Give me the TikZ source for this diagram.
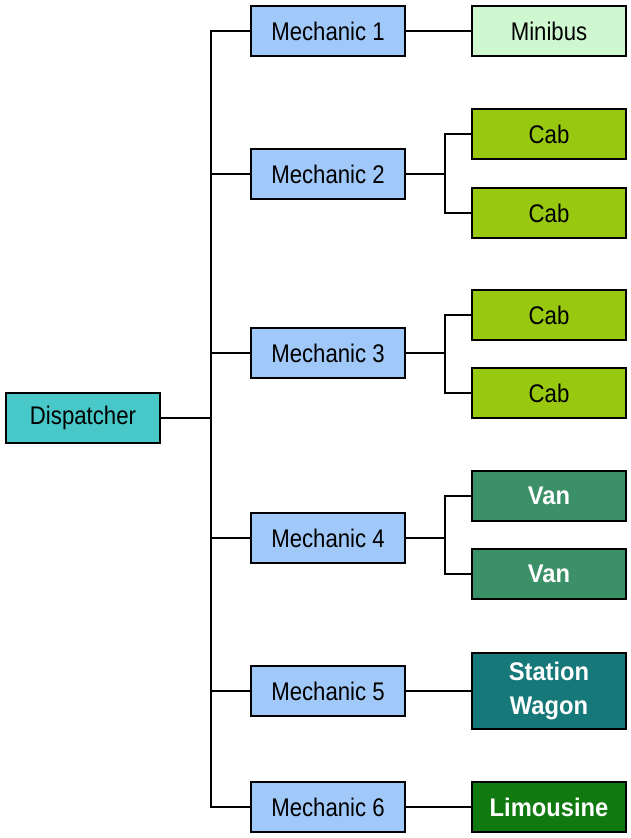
\documentclass[tikz,border=0pt]{standalone}
\usepackage{fontspec}
\setmainfont{Liberation Sans}[FakeStretch=0.87]
\newfontfamily\boldfont{Liberation Sans}[FakeStretch=0.93]
\definecolor{dispc}{HTML}{48C8C8}
\definecolor{mechc}{HTML}{A0C8F8}
\definecolor{minic}{HTML}{D0F8D0}
\definecolor{cabc}{HTML}{98C810}
\definecolor{vanc}{HTML}{3C9068}
\definecolor{swc}{HTML}{167878}
\definecolor{limoc}{HTML}{107A10}
\begin{document}
\begin{tikzpicture}[x=1pt,y=-1pt,
  box/.style={draw=black, line width=2.6pt, minimum width=154pt, minimum height=50pt, inner sep=0pt,
    font=\fontsize{25.5}{34}\selectfont, align=center},
  darkbox/.style={box, text=white, font=\fontsize{25.5}{34}\selectfont\boldfont\bfseries},
  link/.style={line width=2pt}]
\useasboundingbox (0,0) rectangle (630,838);
\fill[white] (0,0) rectangle (630,838);
\node[box, fill=dispc] (disp) at (83,418) {Dispatcher};
\node[box, fill=mechc] (m1) at (328,31) {Mechanic 1};
\node[box, fill=mechc] (m2) at (328,174) {Mechanic 2};
\node[box, fill=mechc] (m3) at (328,353) {Mechanic 3};
\node[box, fill=mechc] (m4) at (328,538) {Mechanic 4};
\node[box, fill=mechc] (m5) at (328,691) {Mechanic 5};
\node[box, fill=mechc] (m6) at (328,807) {Mechanic 6};
\node[box, fill=minic] (mini) at (549,31) {Minibus};
\node[box, fill=cabc] (c1) at (549,134) {Cab};
\node[box, fill=cabc] (c2) at (549,213) {Cab};
\node[box, fill=cabc] (c3) at (549,315) {Cab};
\node[box, fill=cabc] (c4) at (549,393) {Cab};
\node[darkbox, fill=vanc] (v1) at (549,496) {Van};
\node[darkbox, fill=vanc] (v2) at (549,574) {Van};
\node[darkbox, fill=swc, minimum height=76pt] (sw) at (549,691) {Station\\Wagon};
\node[darkbox, fill=limoc] (limo) at (549,807) {Limousine};
\coordinate (trunk) at (211,0);
\coordinate (br) at (445,0);
% trunk
\draw[link] (m1.west) -- (m1.west -| trunk) -- (m6.west -| trunk) -- (m6.west);
\draw[link] (disp.east) -- (disp.east -| trunk);
\foreach \m in {m2,m3,m4,m5} {\draw[link] (\m.west) -- (\m.west -| trunk);}
% right side
\draw[link] (m1.east) -- (mini.west);
\draw[link] (m5.east) -- (m5.east -| sw.west);
\draw[link] (m6.east) -- (m6.east -| limo.west);
\draw[link] (m2.east) -- (m2.east -| br);
\draw[link] (c1.west) -| (br |- c1.west) |- (c2.west);
\draw[link] (m3.east) -- (m3.east -| br);
\draw[link] (c3.west) -| (br |- c3.west) |- (c4.west);
\draw[link] (m4.east) -- (m4.east -| br);
\draw[link] (v1.west) -| (br |- v1.west) |- (v2.west);
\end{tikzpicture}
\end{document}
